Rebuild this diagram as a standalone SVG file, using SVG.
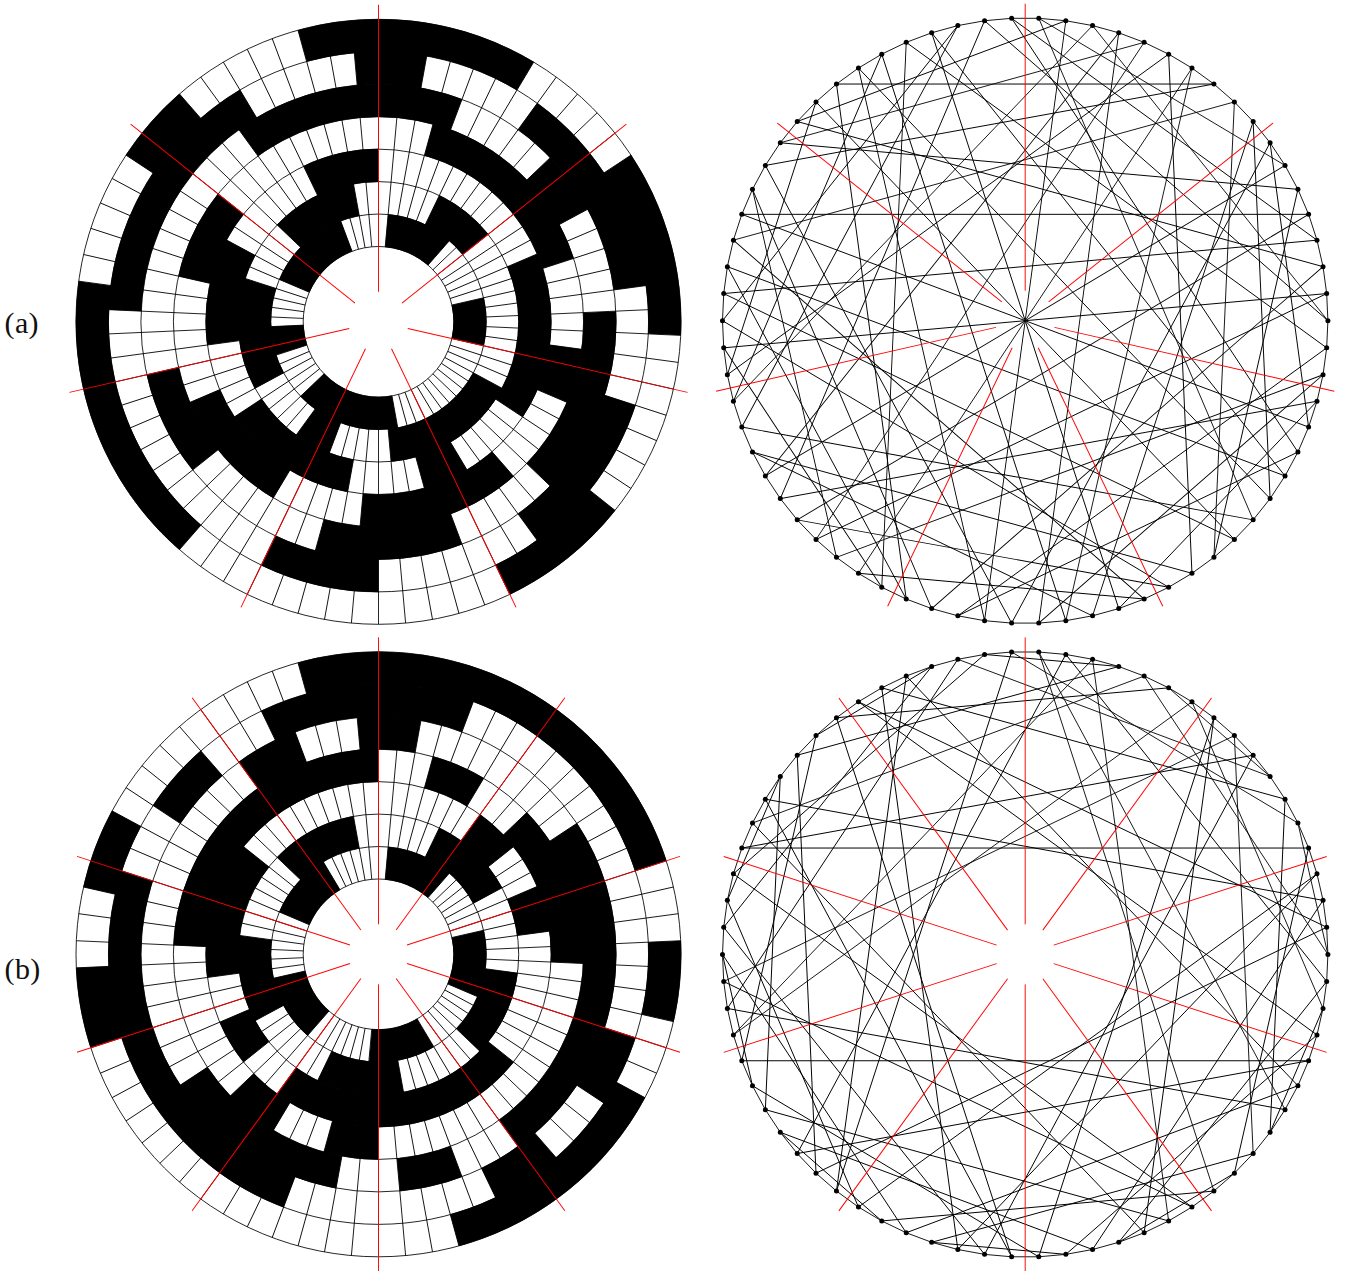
<svg xmlns="http://www.w3.org/2000/svg" width="1350" height="1271" viewBox="0 0 1350 1271">
<style>
.bg{fill:#fff}
.ring{fill:none;stroke:#000;stroke-width:33.1}
.outline{fill:none;stroke:#000;stroke-width:.85}
.spoke{fill:none;stroke:#000;stroke-width:.85}
.ray{fill:none;stroke:#f00;stroke-width:.95}
.chord{fill:none;stroke:#000;stroke-width:.9}
.cycle{fill:none;stroke:#000;stroke-width:.9}
.nodes circle{r:2.5px;fill:#000}
.label{font-family:"Liberation Serif","Times New Roman",serif;font-size:30px;letter-spacing:.4px;fill:#111}
</style>
<defs>
<path id="d" class="spoke" d="M0-302.5V-75.3M0 75.3V302.5"/>
<g id="s7">
<use href="#d"/>
<use href="#d" transform="rotate(5.142857)"/>
<use href="#d" transform="rotate(10.285714)"/>
<use href="#d" transform="rotate(15.428571)"/>
<use href="#d" transform="rotate(20.571429)"/>
<use href="#d" transform="rotate(25.714286)"/>
<use href="#d" transform="rotate(30.857143)"/>
</g>
<g id="spokes">
<use href="#s7"/>
<use href="#s7" transform="rotate(36)"/>
<use href="#s7" transform="rotate(72)"/>
<use href="#s7" transform="rotate(108)"/>
<use href="#s7" transform="rotate(144)"/>
</g>
<g id="outlines" class="outline">
<circle r="75.3"/><circle r="107.75"/><circle r="140.2"/><circle r="172.65"/><circle r="205.1"/><circle r="237.6"/><circle r="270.05"/><circle r="302.5"/>
</g>
<line id="ray" class="ray" x1="0" y1="-30" x2="0" y2="-317"/>
<g id="rays7">
<use href="#ray"/>
<use href="#ray" transform="rotate(51.42857)"/>
<use href="#ray" transform="rotate(102.85714)"/>
<use href="#ray" transform="rotate(154.28571)"/>
<use href="#ray" transform="rotate(205.71429)"/>
<use href="#ray" transform="rotate(257.14286)"/>
<use href="#ray" transform="rotate(308.57143)"/>
</g>
<g id="rays10">
<use href="#ray"/>
<use href="#ray" transform="rotate(36)"/>
<use href="#ray" transform="rotate(72)"/>
<use href="#ray" transform="rotate(108)"/>
<use href="#ray" transform="rotate(144)"/>
<use href="#ray" transform="rotate(180)"/>
<use href="#ray" transform="rotate(216)"/>
<use href="#ray" transform="rotate(252)"/>
<use href="#ray" transform="rotate(288)"/>
<use href="#ray" transform="rotate(324)"/>
</g>
<polygon id="cycle" class="cycle" points="13.58,-302.39 40.63,-299.96 67.36,-295.11 93.54,-287.89 118.97,-278.34 143.44,-266.55 166.76,-252.63 188.73,-236.66 209.18,-218.79 227.96,-199.16 244.89,-177.92 259.85,-155.25 272.72,-131.34 283.4,-106.36 291.79,-80.53 297.84,-54.05 301.48,-27.13 302.7,0 301.48,27.13 297.84,54.05 291.79,80.53 283.4,106.36 272.72,131.34 259.85,155.25 244.89,177.92 227.96,199.16 209.18,218.79 188.73,236.66 166.76,252.63 143.44,266.55 118.97,278.34 93.54,287.89 67.36,295.11 40.63,299.96 13.58,302.39 -13.58,302.39 -40.63,299.96 -67.36,295.11 -93.54,287.89 -118.97,278.34 -143.44,266.55 -166.76,252.63 -188.73,236.66 -209.18,218.79 -227.96,199.16 -244.89,177.92 -259.85,155.25 -272.72,131.34 -283.4,106.36 -291.79,80.53 -297.84,54.05 -301.48,27.13 -302.7,0 -301.48,-27.13 -297.84,-54.05 -291.79,-80.53 -283.4,-106.36 -272.72,-131.34 -259.85,-155.25 -244.89,-177.92 -227.96,-199.16 -209.18,-218.79 -188.73,-236.66 -166.76,-252.63 -143.44,-266.55 -118.97,-278.34 -93.54,-287.89 -67.36,-295.11 -40.63,-299.96 -13.58,-302.39"/>
<path id="chords-a" class="chord" d="M13.58-302.39L259.85-155.25M13.58-302.39L227.96 199.16M67.36-295.11L302.7 0M67.36-295.11L-291.79 80.53M118.97-278.34L-209.18 218.79M118.97-278.34L-244.89-177.92M166.76-252.63L40.63 299.96M166.76-252.63L-166.76 252.63M209.18-218.79L188.73 236.66M209.18-218.79L-291.79-80.53"/>
<path id="chords-b" class="chord" d="M13.58-302.39L259.85 155.25M13.58-302.39L188.73 236.66M67.36-295.11L-291.79 80.53M67.36-295.11L143.44 266.55M118.97-278.34L-272.72-131.34M118.97-278.34L302.7 0M166.76-252.63L297.84 54.05M166.76-252.63L-291.79 80.53M209.18-218.79L227.96 199.16M209.18-218.79L-301.48 27.13M244.89-177.92L143.44-266.55M244.89-177.92L-67.36-295.11M272.72-131.34L302.7 0M272.72-131.34L-13.58-302.39"/>
</defs>
<rect class="bg" width="1350" height="1271"/>

<text class="label" x="4.5" y="333" id="label-a">(a)</text>
<text class="label" x="4.5" y="979" id="label-b">(b)</text>

<g id="disc-a" transform="translate(378.5,321.8)">
<g transform="rotate(-90)">
<circle class="ring" r="91.5" pathLength="70" stroke-dasharray="0 1 7 7 5 13 11 5 3 5 9 4"/>
<circle class="ring" r="124" pathLength="70" stroke-dasharray="0 5 5 13 11 5 3 5 9 5 7 2"/>
<circle class="ring" r="156.4" pathLength="70" stroke-dasharray="0 13 11 5 3 5 9 5 7 7 5 0"/>
<circle class="ring" r="188.9" pathLength="70" stroke-dasharray="0 3 11 5 3 5 9 5 7 7 5 10"/>
<circle class="ring" r="221.35" pathLength="70" stroke-dasharray="4 5 3 5 9 5 7 7 5 13 7 0"/>
<circle class="ring" r="253.8" pathLength="70" stroke-dasharray="2 5 9 5 7 7 5 13 11 5 1 0"/>
<circle class="ring" r="286.25" pathLength="70" stroke-dasharray="6 5 7 7 5 13 11 5 3 5 3 0"/>
</g>
<use href="#spokes"/>
<use href="#outlines"/>
<use href="#rays7"/>
</g>

<g id="disc-b" transform="translate(378.5,954.3)">
<g transform="rotate(-90)">
<circle class="ring" r="91.5" pathLength="70" stroke-dasharray="0 1 7 7 7 7 7 7 7 7 7 6"/>
<circle class="ring" r="124" pathLength="70" stroke-dasharray="0 5 7 7 7 7 7 7 7 7 7 2"/>
<circle class="ring" r="156.4" pathLength="70" stroke-dasharray="0 7 3 3 3 9 17 3 3 3 9 10"/>
<circle class="ring" r="188.9" pathLength="70" stroke-dasharray="0 3 3 3 9 17 3 3 3 9 17 0"/>
<circle class="ring" r="221.35" pathLength="70" stroke-dasharray="2 9 17 3 3 3 9 17 3 3 1 0"/>
<circle class="ring" r="253.8" pathLength="70" stroke-dasharray="4 17 3 3 3 9 17 3 3 3 5 0"/>
<circle class="ring" r="286.25" pathLength="70" stroke-dasharray="14 3 3 3 9 17 3 3 3 9 3 0"/>
</g>
<use href="#spokes"/>
<use href="#outlines"/>
<use href="#rays10"/>
</g>

<g id="graph-a" transform="translate(1025.2,320.7)">
<g id="connectors-a">
<use href="#cycle"/>
<use href="#chords-a"/>
<use href="#chords-a" transform="rotate(51.42857)"/>
<use href="#chords-a" transform="rotate(102.85714)"/>
<use href="#chords-a" transform="rotate(154.28571)"/>
<use href="#chords-a" transform="rotate(205.71429)"/>
<use href="#chords-a" transform="rotate(257.14286)"/>
<use href="#chords-a" transform="rotate(308.57143)"/>
</g>
<use href="#rays7"/>
<g class="nodes">
<g id="a0"><circle cx="13.58" cy="-302.39"/></g><g id="a1"><circle cx="40.63" cy="-299.96"/></g><g id="a2"><circle cx="67.36" cy="-295.11"/></g><g id="a3"><circle cx="93.54" cy="-287.89"/></g><g id="a4"><circle cx="118.97" cy="-278.34"/></g><g id="a5"><circle cx="143.44" cy="-266.55"/></g><g id="a6"><circle cx="166.76" cy="-252.63"/></g><g id="a7"><circle cx="188.73" cy="-236.66"/></g><g id="a8"><circle cx="209.18" cy="-218.79"/></g><g id="a9"><circle cx="227.96" cy="-199.16"/></g>
<g id="a10"><circle cx="244.89" cy="-177.92"/></g><g id="a11"><circle cx="259.85" cy="-155.25"/></g><g id="a12"><circle cx="272.72" cy="-131.34"/></g><g id="a13"><circle cx="283.4" cy="-106.36"/></g><g id="a14"><circle cx="291.79" cy="-80.53"/></g><g id="a15"><circle cx="297.84" cy="-54.05"/></g><g id="a16"><circle cx="301.48" cy="-27.13"/></g><g id="a17"><circle cx="302.7" cy="0"/></g><g id="a18"><circle cx="301.48" cy="27.13"/></g><g id="a19"><circle cx="297.84" cy="54.05"/></g>
<g id="a20"><circle cx="291.79" cy="80.53"/></g><g id="a21"><circle cx="283.4" cy="106.36"/></g><g id="a22"><circle cx="272.72" cy="131.34"/></g><g id="a23"><circle cx="259.85" cy="155.25"/></g><g id="a24"><circle cx="244.89" cy="177.92"/></g><g id="a25"><circle cx="227.96" cy="199.16"/></g><g id="a26"><circle cx="209.18" cy="218.79"/></g><g id="a27"><circle cx="188.73" cy="236.66"/></g><g id="a28"><circle cx="166.76" cy="252.63"/></g><g id="a29"><circle cx="143.44" cy="266.55"/></g>
<g id="a30"><circle cx="118.97" cy="278.34"/></g><g id="a31"><circle cx="93.54" cy="287.89"/></g><g id="a32"><circle cx="67.36" cy="295.11"/></g><g id="a33"><circle cx="40.63" cy="299.96"/></g><g id="a34"><circle cx="13.58" cy="302.39"/></g><g id="a35"><circle cx="-13.58" cy="302.39"/></g><g id="a36"><circle cx="-40.63" cy="299.96"/></g><g id="a37"><circle cx="-67.36" cy="295.11"/></g><g id="a38"><circle cx="-93.54" cy="287.89"/></g><g id="a39"><circle cx="-118.97" cy="278.34"/></g>
<g id="a40"><circle cx="-143.44" cy="266.55"/></g><g id="a41"><circle cx="-166.76" cy="252.63"/></g><g id="a42"><circle cx="-188.73" cy="236.66"/></g><g id="a43"><circle cx="-209.18" cy="218.79"/></g><g id="a44"><circle cx="-227.96" cy="199.16"/></g><g id="a45"><circle cx="-244.89" cy="177.92"/></g><g id="a46"><circle cx="-259.85" cy="155.25"/></g><g id="a47"><circle cx="-272.72" cy="131.34"/></g><g id="a48"><circle cx="-283.4" cy="106.36"/></g><g id="a49"><circle cx="-291.79" cy="80.53"/></g>
<g id="a50"><circle cx="-297.84" cy="54.05"/></g><g id="a51"><circle cx="-301.48" cy="27.13"/></g><g id="a52"><circle cx="-302.7" cy="0"/></g><g id="a53"><circle cx="-301.48" cy="-27.13"/></g><g id="a54"><circle cx="-297.84" cy="-54.05"/></g><g id="a55"><circle cx="-291.79" cy="-80.53"/></g><g id="a56"><circle cx="-283.4" cy="-106.36"/></g><g id="a57"><circle cx="-272.72" cy="-131.34"/></g><g id="a58"><circle cx="-259.85" cy="-155.25"/></g><g id="a59"><circle cx="-244.89" cy="-177.92"/></g>
<g id="a60"><circle cx="-227.96" cy="-199.16"/></g><g id="a61"><circle cx="-209.18" cy="-218.79"/></g><g id="a62"><circle cx="-188.73" cy="-236.66"/></g><g id="a63"><circle cx="-166.76" cy="-252.63"/></g><g id="a64"><circle cx="-143.44" cy="-266.55"/></g><g id="a65"><circle cx="-118.97" cy="-278.34"/></g><g id="a66"><circle cx="-93.54" cy="-287.89"/></g><g id="a67"><circle cx="-67.36" cy="-295.11"/></g><g id="a68"><circle cx="-40.63" cy="-299.96"/></g><g id="a69"><circle cx="-13.58" cy="-302.39"/></g>
</g>
</g>

<g id="graph-b" transform="translate(1025.2,954.4)">
<g id="connectors-b">
<use href="#cycle"/>
<use href="#chords-b"/>
<use href="#chords-b" transform="rotate(72)"/>
<use href="#chords-b" transform="rotate(144)"/>
<use href="#chords-b" transform="rotate(216)"/>
<use href="#chords-b" transform="rotate(288)"/>
</g>
<use href="#rays10"/>
<g class="nodes">
<g id="b0"><circle cx="13.58" cy="-302.39"/></g><g id="b1"><circle cx="40.63" cy="-299.96"/></g><g id="b2"><circle cx="67.36" cy="-295.11"/></g><g id="b3"><circle cx="93.54" cy="-287.89"/></g><g id="b4"><circle cx="118.97" cy="-278.34"/></g><g id="b5"><circle cx="143.44" cy="-266.55"/></g><g id="b6"><circle cx="166.76" cy="-252.63"/></g><g id="b7"><circle cx="188.73" cy="-236.66"/></g><g id="b8"><circle cx="209.18" cy="-218.79"/></g><g id="b9"><circle cx="227.96" cy="-199.16"/></g>
<g id="b10"><circle cx="244.89" cy="-177.92"/></g><g id="b11"><circle cx="259.85" cy="-155.25"/></g><g id="b12"><circle cx="272.72" cy="-131.34"/></g><g id="b13"><circle cx="283.4" cy="-106.36"/></g><g id="b14"><circle cx="291.79" cy="-80.53"/></g><g id="b15"><circle cx="297.84" cy="-54.05"/></g><g id="b16"><circle cx="301.48" cy="-27.13"/></g><g id="b17"><circle cx="302.7" cy="0"/></g><g id="b18"><circle cx="301.48" cy="27.13"/></g><g id="b19"><circle cx="297.84" cy="54.05"/></g>
<g id="b20"><circle cx="291.79" cy="80.53"/></g><g id="b21"><circle cx="283.4" cy="106.36"/></g><g id="b22"><circle cx="272.72" cy="131.34"/></g><g id="b23"><circle cx="259.85" cy="155.25"/></g><g id="b24"><circle cx="244.89" cy="177.92"/></g><g id="b25"><circle cx="227.96" cy="199.16"/></g><g id="b26"><circle cx="209.18" cy="218.79"/></g><g id="b27"><circle cx="188.73" cy="236.66"/></g><g id="b28"><circle cx="166.76" cy="252.63"/></g><g id="b29"><circle cx="143.44" cy="266.55"/></g>
<g id="b30"><circle cx="118.97" cy="278.34"/></g><g id="b31"><circle cx="93.54" cy="287.89"/></g><g id="b32"><circle cx="67.36" cy="295.11"/></g><g id="b33"><circle cx="40.63" cy="299.96"/></g><g id="b34"><circle cx="13.58" cy="302.39"/></g><g id="b35"><circle cx="-13.58" cy="302.39"/></g><g id="b36"><circle cx="-40.63" cy="299.96"/></g><g id="b37"><circle cx="-67.36" cy="295.11"/></g><g id="b38"><circle cx="-93.54" cy="287.89"/></g><g id="b39"><circle cx="-118.97" cy="278.34"/></g>
<g id="b40"><circle cx="-143.44" cy="266.55"/></g><g id="b41"><circle cx="-166.76" cy="252.63"/></g><g id="b42"><circle cx="-188.73" cy="236.66"/></g><g id="b43"><circle cx="-209.18" cy="218.79"/></g><g id="b44"><circle cx="-227.96" cy="199.16"/></g><g id="b45"><circle cx="-244.89" cy="177.92"/></g><g id="b46"><circle cx="-259.85" cy="155.25"/></g><g id="b47"><circle cx="-272.72" cy="131.34"/></g><g id="b48"><circle cx="-283.4" cy="106.36"/></g><g id="b49"><circle cx="-291.79" cy="80.53"/></g>
<g id="b50"><circle cx="-297.84" cy="54.05"/></g><g id="b51"><circle cx="-301.48" cy="27.13"/></g><g id="b52"><circle cx="-302.7" cy="0"/></g><g id="b53"><circle cx="-301.48" cy="-27.13"/></g><g id="b54"><circle cx="-297.84" cy="-54.05"/></g><g id="b55"><circle cx="-291.79" cy="-80.53"/></g><g id="b56"><circle cx="-283.4" cy="-106.36"/></g><g id="b57"><circle cx="-272.72" cy="-131.34"/></g><g id="b58"><circle cx="-259.85" cy="-155.25"/></g><g id="b59"><circle cx="-244.89" cy="-177.92"/></g>
<g id="b60"><circle cx="-227.96" cy="-199.16"/></g><g id="b61"><circle cx="-209.18" cy="-218.79"/></g><g id="b62"><circle cx="-188.73" cy="-236.66"/></g><g id="b63"><circle cx="-166.76" cy="-252.63"/></g><g id="b64"><circle cx="-143.44" cy="-266.55"/></g><g id="b65"><circle cx="-118.97" cy="-278.34"/></g><g id="b66"><circle cx="-93.54" cy="-287.89"/></g><g id="b67"><circle cx="-67.36" cy="-295.11"/></g><g id="b68"><circle cx="-40.63" cy="-299.96"/></g><g id="b69"><circle cx="-13.58" cy="-302.39"/></g>
</g>
</g>
</svg>
